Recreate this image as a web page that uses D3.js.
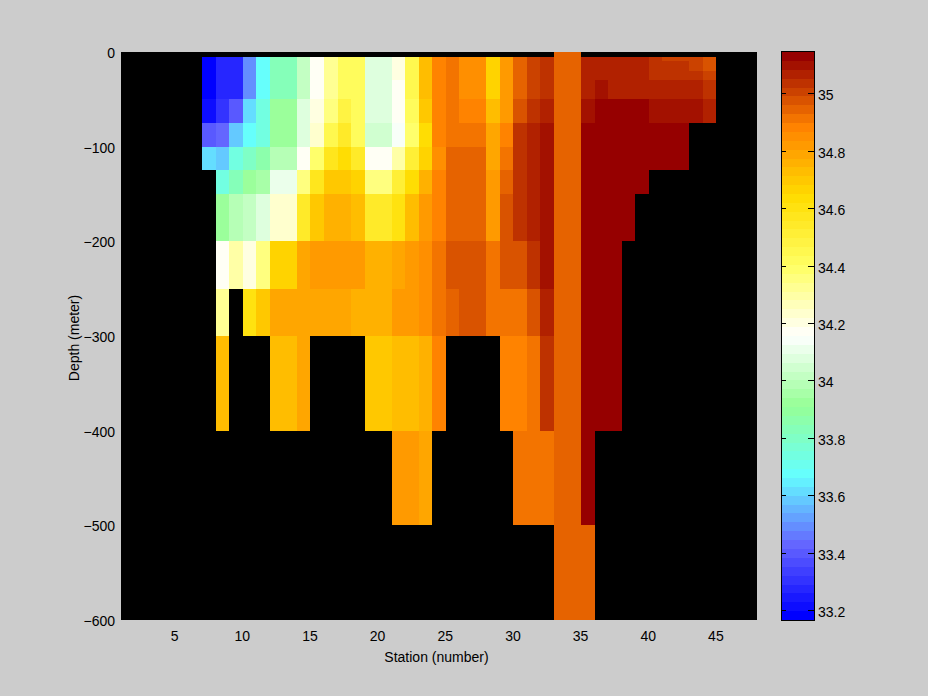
<!DOCTYPE html>
<html><head><meta charset="utf-8">
<script src="https://cdn.jsdelivr.net/npm/d3@7"></script>
<style>html,body{margin:0;padding:0;background:#ccc}svg{display:block}text{font-family:"Liberation Sans",sans-serif;fill:#000}</style>
</head><body><svg id="c" width="928" height="696"></svg>
<script>
const N = null;
const firstStation = 7;
const stationDomain = [1, 48];
const depthEdges = [0,5,10,20,30,50,75,100,125,150,200,250,300,400,500,600];
const xTicks = [5,10,15,20,25,30,35,40,45];
const yTicks = [0,-100,-200,-300,-400,-500,-600];
const cTicks = [33.2,33.4,33.6,33.8,34,34.2,34.4,34.6,34.8,35];
const cDomain = [33.165, 35.144];
const cStops = ["#0000ff","#6464ff","#64ffff","#96ff96","#ffffff","#ffff64","#ffdc00","#ff8200","#960000"];

const d0_5 = [N,N,N,N,N,N,N,N,N,N,N,N,N,N,N,N,N,N,N,N,N,N,N,N,N,N,34.94,34.94,N,N,N,N,N,N,N,N,N,N];
const d5_10 = [33.18,33.27,33.27,33.49,33.67,33.83,33.83,34.01,34.17,34.32,34.42,34.42,34.07,34.07,34.20,34.45,34.73,34.88,34.91,34.85,34.85,34.66,34.82,34.94,35.00,35.04,34.94,34.94,35.07,35.07,35.07,35.07,35.07,35.04,35.00,35.00,35.00,34.97];
const d10_20 = [33.18,33.27,33.27,33.49,33.67,33.83,33.83,34.01,34.17,34.32,34.42,34.42,34.07,34.07,34.20,34.45,34.73,34.88,34.91,34.85,34.85,34.66,34.82,34.94,35.00,35.04,34.94,34.94,35.07,35.07,35.07,35.07,35.07,35.04,35.04,35.04,35.00,34.97];
const d20_30 = [33.18,33.27,33.27,33.49,33.67,33.83,33.83,34.01,34.17,34.32,34.42,34.42,34.07,34.07,34.20,34.45,34.73,34.88,34.91,34.85,34.85,34.66,34.82,34.94,35.00,35.04,34.94,34.94,35.07,35.07,35.07,35.07,35.07,35.04,35.04,35.04,35.04,35.00];
const d30_50 = [33.18,33.27,33.27,33.49,33.67,33.83,33.83,34.01,34.17,34.32,34.42,34.42,34.07,34.07,34.17,34.45,34.73,34.88,34.91,34.85,34.85,34.66,34.82,34.94,35.00,35.04,34.94,34.94,35.07,35.10,35.07,35.07,35.07,35.07,35.07,35.07,35.07,35.04];
const d50_75 = [33.21,33.30,33.40,33.61,33.73,33.92,33.92,34.07,34.20,34.35,34.48,34.42,34.07,34.07,34.17,34.42,34.70,34.88,34.91,34.88,34.88,34.73,34.82,34.97,35.04,35.07,34.94,34.94,35.10,35.13,35.13,35.13,35.13,35.10,35.10,35.10,35.10,35.07];
const d75_100 = [33.40,33.43,33.58,33.67,33.73,33.92,33.92,34.07,34.23,34.45,34.54,34.42,34.04,34.04,34.14,34.38,34.63,34.88,34.91,34.91,34.91,34.79,34.88,35.04,35.07,35.10,34.94,34.94,35.13,35.13,35.13,35.13,35.13,35.13,35.13,35.13,N,N];
const d100_125 = [33.61,33.58,33.73,33.80,33.86,33.98,33.98,34.17,34.38,34.57,34.63,34.54,34.17,34.17,34.29,34.51,34.66,34.85,34.94,34.94,34.94,34.79,34.91,35.04,35.07,35.10,34.94,34.94,35.13,35.13,35.13,35.13,35.13,35.13,35.13,35.13,N,N];
const d125_150 = [N,33.73,33.83,33.92,33.95,34.10,34.10,34.35,34.57,34.70,34.70,34.66,34.35,34.35,34.51,34.63,34.76,34.88,34.94,34.94,34.94,34.82,34.94,35.04,35.07,35.10,34.94,34.94,35.13,35.13,35.13,35.13,35.13,N,N,N,N,N];
const d150_200 = [N,33.92,33.98,34.01,34.07,34.23,34.23,34.54,34.70,34.76,34.76,34.73,34.54,34.54,34.60,34.73,34.82,34.88,34.94,34.94,34.94,34.82,34.97,35.04,35.07,35.10,34.94,34.94,35.13,35.13,35.13,35.13,N,N,N,N,N,N];
const d200_250 = [N,34.17,34.29,34.20,34.35,34.66,34.66,34.79,34.82,34.82,34.82,34.82,34.76,34.76,34.79,34.82,34.85,34.91,34.97,34.97,34.97,34.91,34.97,34.97,35.04,35.10,34.94,34.94,35.13,35.13,35.13,N,N,N,N,N,N,N];
const d250_300 = [N,34.32,N,34.60,34.70,34.79,34.79,34.79,34.79,34.79,34.79,34.76,34.76,34.76,34.82,34.82,34.85,34.91,34.94,34.97,34.97,34.91,34.91,34.91,34.97,35.07,34.94,34.94,35.13,35.13,35.13,N,N,N,N,N,N,N];
const d300_400 = [N,34.73,N,N,N,34.73,34.73,34.79,N,N,N,N,34.70,34.70,34.73,34.73,34.76,34.88,N,N,N,N,34.88,34.88,34.91,35.04,34.94,34.94,35.13,35.13,35.13,N,N,N,N,N,N,N];
const d400_500 = [N,N,N,N,N,N,N,N,N,N,N,N,N,N,34.82,34.82,34.79,N,N,N,N,N,N,34.91,34.91,34.91,34.94,34.94,35.13,N,N,N,N,N,N,N,N,N];
const d500_600 = [N,N,N,N,N,N,N,N,N,N,N,N,N,N,N,N,N,N,N,N,N,N,N,N,N,N,34.94,34.94,34.94,N,N,N,N,N,N,N,N,N];
const rows = [d0_5,d5_10,d10_20,d20_30,d30_50,d50_75,d75_100,d100_125,d125_150,d150_200,d200_250,d250_300,d300_400,d400_500,d500_600];

const svg = d3.select("#c");
const x = d3.scaleLinear().domain(stationDomain).range([121,757]);
const y = d3.scaleLinear().domain([-600,0]).range([620,52]);
const yc = d3.scaleLinear().domain(cDomain).range([620,52]);
const interp = d3.piecewise(d3.interpolateRgb, cStops);
const color = d3.scaleQuantize().domain(cDomain).range(d3.range(64).map(i=>interp(i/63)));

svg.append("rect").attr("x",x(1)).attr("y",y(0)).attr("width",x(48)-x(1)).attr("height",y(-600)-y(0)).attr("fill","#000");

const cells = rows.flatMap((r,ri)=>r.map((v,ci)=>({v,ri,st:firstStation+ci})).filter(d=>d.v!==null));
svg.append("g").attr("shape-rendering","crispEdges").selectAll("rect").data(cells).join("rect")
  .attr("x",d=>Math.round(x(d.st)))
  .attr("width",d=>Math.round(x(d.st+1))-Math.round(x(d.st)))
  .attr("y",d=>Math.round(y(-depthEdges[d.ri])))
  .attr("height",d=>Math.round(y(-depthEdges[d.ri+1]))-Math.round(y(-depthEdges[d.ri])))
  .attr("fill",d=>color(d.v));

const ax = svg.append("g").attr("transform","translate(0,620)").call(d3.axisBottom(x).tickValues(xTicks).tickSize(0).tickPadding(11).tickFormat(d3.format("d")));
ax.select(".domain").remove();
ax.selectAll("text").attr("dx",-1);
const ay = svg.append("g").attr("transform","translate(121,1)").call(d3.axisLeft(y).tickValues(yTicks).tickSize(0).tickPadding(6).tickFormat(d3.format("d")));
ay.select(".domain").remove();
svg.append("text").attr("x",436.5).attr("y",662).attr("text-anchor","middle").text("Station (number)");
svg.append("text").attr("transform","translate(79,338) rotate(-90)").attr("text-anchor","middle").text("Depth (meter)");

// colorbar
const cb = svg.append("g").attr("shape-rendering","crispEdges");
cb.selectAll("rect").data(color.range()).join("rect")
  .attr("x",782).attr("width",32)
  .attr("y",c=>Math.round(yc(color.invertExtent(c)[1])))
  .attr("height",c=>Math.round(yc(color.invertExtent(c)[0]))-Math.round(yc(color.invertExtent(c)[1])))
  .attr("fill",c=>c);
cb.append("rect").attr("x",781.5).attr("y",51.5).attr("width",33).attr("height",569).attr("fill","none").attr("stroke","#000");
const ac = svg.append("g").attr("transform","translate(814,2)").call(d3.axisRight(yc).tickValues(cTicks).tickSize(0).tickPadding(4).tickFormat(d3.format("~g")));
ac.select(".domain").remove();
cb.append("g").selectAll("line").data(cTicks).join("line").attr("y1",d=>Math.round(yc(d))+.5).attr("y2",d=>Math.round(yc(d))+.5).attr("x1",782).attr("x2",786).attr("stroke","#000");
cb.append("g").selectAll("line").data(cTicks).join("line").attr("y1",d=>Math.round(yc(d))+.5).attr("y2",d=>Math.round(yc(d))+.5).attr("x1",808).attr("x2",814).attr("stroke","#000");
svg.selectAll("text").attr("font-family",null).style("font-size","14px");
</script></body></html>
